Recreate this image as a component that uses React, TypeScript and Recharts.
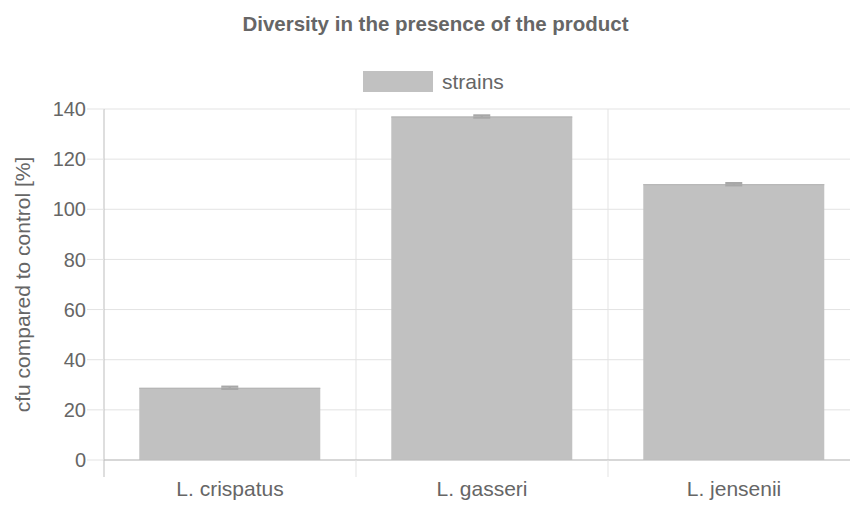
import React from 'react'
import {
  BarChart,
  Bar,
  XAxis,
  YAxis,
  CartesianGrid,
  ErrorBar,
  Label,
} from 'recharts'

const categories = ['L. crispatus', 'L. gasseri', 'L. jensenii']
const strainValues = [28.8, 137, 110]
const strainErrors = [0.45, 0.45, 0.45]
const yTicks = [0, 20, 40, 60, 80, 100, 120, 140]

const chartData = categories.map((name, i) => ({
  name,
  strains: strainValues[i],
  err: strainErrors[i],
}))

const FONT = '"Liberation Sans", Arial, Helvetica, sans-serif'
const TEXT = '#666666'
const GRID = '#e3e3e3'
const AXIS = '#bdbdbd'
const BAR = '#c1c1c1'

const CHART_W = 862
const CHART_H = 505
const MARGIN = { top: 109, right: 2, bottom: 0, left: 0 }
const Y_AXIS_W = 104
const X_AXIS_H = 45
const PLOT_W = CHART_W - MARGIN.left - MARGIN.right - Y_AXIS_W

// category label + tick line on the left edge of each band (chart.js offset style)
function XTick(props: any) {
  const { x, y, payload, index } = props
  const band = PLOT_W / categories.length
  const left = x - band / 2
  return (
    <g>
      <line x1={left} y1={y} x2={left} y2={y + 17} stroke={index === 0 ? AXIS : GRID} />
      <text x={x} y={y + 36} textAnchor="middle" fill={TEXT} fontSize={21} fontFamily={FONT}>
        {payload.value}
      </text>
    </g>
  )
}

// bar with a slightly darker top edge
function BarShape(props: any) {
  const { x, y, width, height } = props
  return (
    <g>
      <rect x={x} y={y} width={width} height={height} fill={BAR} />
      <line x1={x} y1={y + 0.5} x2={x + width} y2={y + 0.5} stroke="#b3b3b3" />
    </g>
  )
}

function YLabel(props: any) {
  const vb = props.viewBox
  const cx = 22
  const cy = vb.y + vb.height / 2
  return (
    <text
      x={cx}
      y={cy}
      transform={`rotate(-90 ${cx} ${cy})`}
      textAnchor="middle"
      dominantBaseline="central"
      fill={TEXT}
      fontSize={21}
      fontFamily={FONT}
    >
      cfu compared to control [%]
    </text>
  )
}

export default function App() {
  return (
    <div
      style={{
        position: 'absolute',
        left: 0,
        top: 0,
        width: 850,
        height: 505,
        overflow: 'hidden',
        background: '#fff',
        fontFamily: FONT,
      }}
    >
      <BarChart
        width={CHART_W}
        height={CHART_H}
        data={chartData}
        margin={MARGIN}
        barCategoryGap="14%"
      >
        <CartesianGrid
          stroke={GRID}
          verticalCoordinatesGenerator={({ offset }: any) =>
            categories.slice(1).map((_, i) => offset.left + ((i + 1) * offset.width) / categories.length)
          }
        />
        <XAxis
          dataKey="name"
          height={X_AXIS_H}
          axisLine={{ stroke: AXIS }}
          tickLine={false}
          tickSize={0}
          tickMargin={0}
          tick={<XTick />}
          interval={0}
        />
        <YAxis
          width={Y_AXIS_W}
          domain={[0, 140]}
          ticks={yTicks}
          axisLine={{ stroke: AXIS }}
          tickLine={{ stroke: GRID }}
          tickSize={17}
          tickMargin={1}
          tick={{ fill: TEXT, fontSize: 20, fontFamily: FONT }}
        >
          <Label content={<YLabel />} />
        </YAxis>
        <Bar dataKey="strains" shape={<BarShape />} isAnimationActive={false}>
          <ErrorBar dataKey="err" width={8.5} stroke="#a8a8a8" strokeWidth={2.2} direction="y" />
        </Bar>
      </BarChart>
      <svg
        width={850}
        height={100}
        style={{ position: 'absolute', left: 0, top: 0, pointerEvents: 'none' }}
      >
        <text
          x={435.5}
          y={30.5}
          textAnchor="middle"
          fill={TEXT}
          fontSize={20.5}
          fontWeight="bold"
          fontFamily={FONT}
        >
          Diversity in the presence of the product
        </text>
        <rect x={363} y={71} width={70} height={21} fill={BAR} />
        <text x={442} y={89} fill={TEXT} fontSize={21} fontFamily={FONT}>
          strains
        </text>
      </svg>
    </div>
  )
}
